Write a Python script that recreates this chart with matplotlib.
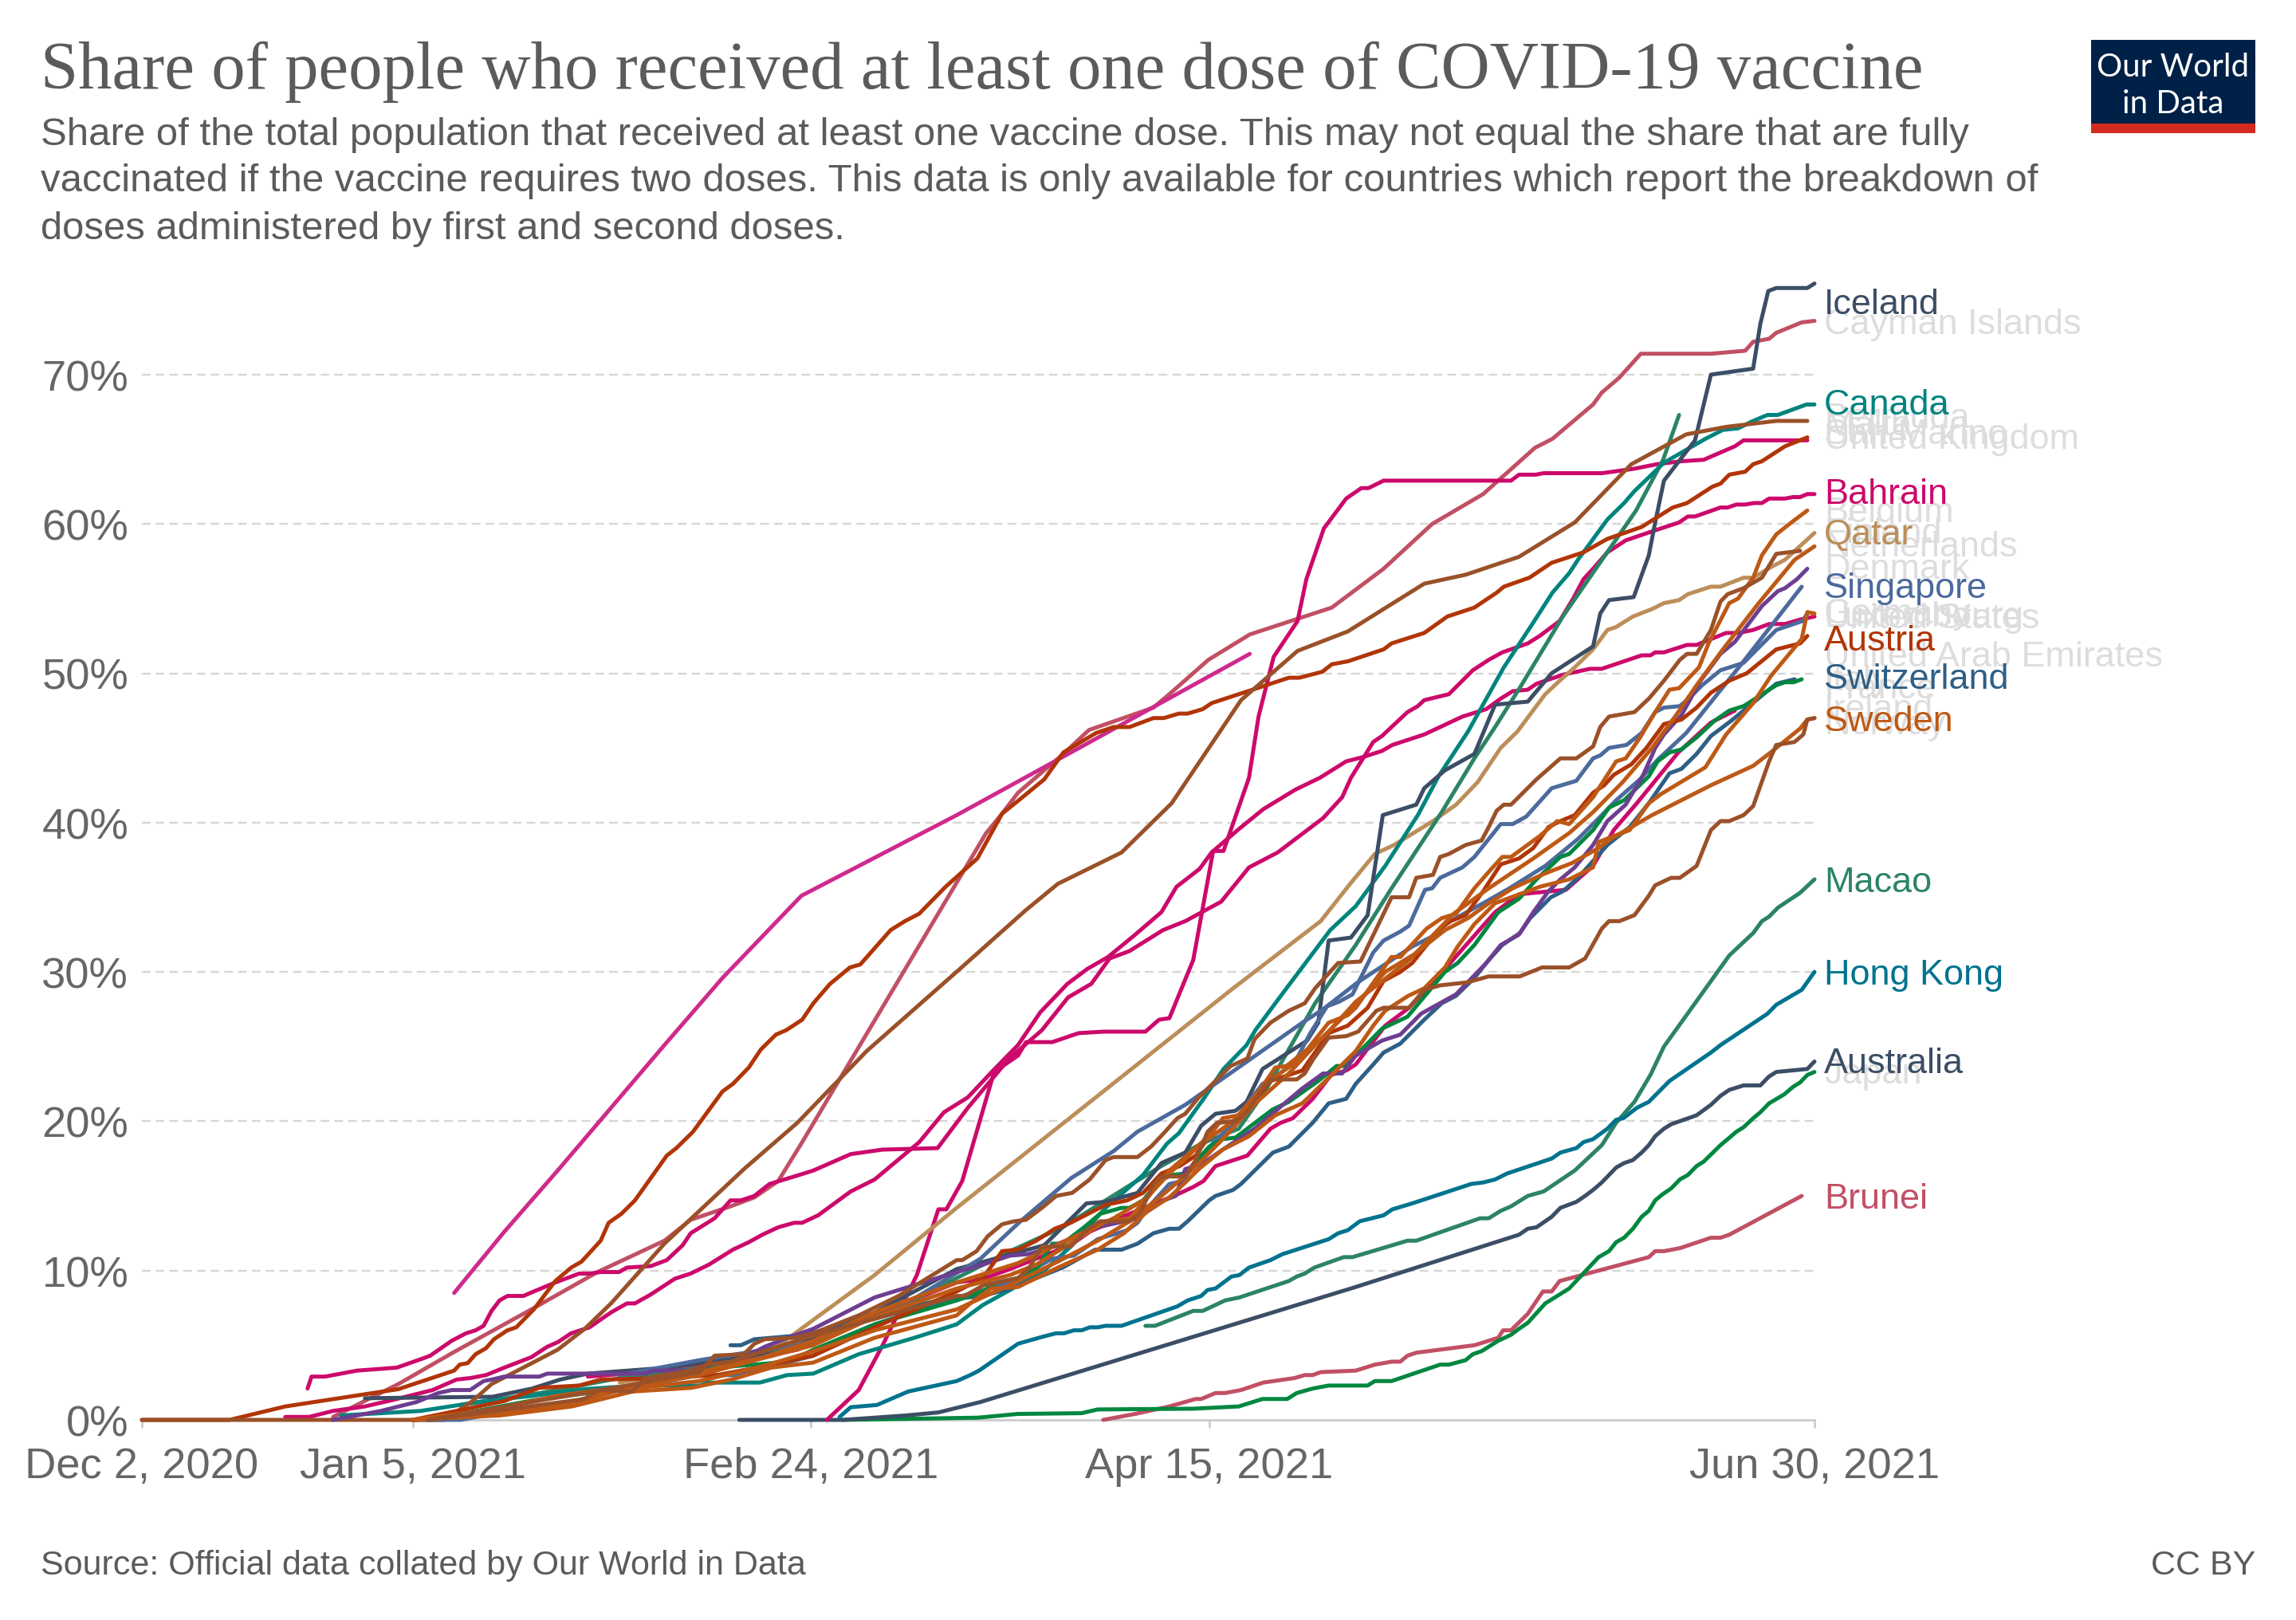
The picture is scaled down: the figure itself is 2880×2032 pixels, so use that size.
import matplotlib
matplotlib.use('Agg')
import matplotlib.pyplot as plt
from matplotlib.patches import Rectangle

# every series is (days since Dec 2 2020, percent)
iceland = [(28,1.45),(44,1.55),(49,2.1),(52.5,2.7),(56,3.1),(66,3.5),(69,3.75),(80,4.5),(84,5.4),(92,7.2),(102.3,10.1),(113.3,11.7),(118.6,14.5),(121,14.6),(125,15.2),(128,17.2),(131,17.9),(133,19.7),(134.8,20.5),(137.3,20.7),(138.7,21.3),(140.7,23.5),(146.3,25.4),(147.7,26.6),(149,32.1),(151.8,32.3),(153.9,33.8),(155.8,40.5),(160,41.2),(161,42.3),(163.6,43.5),(167.3,44.6),(169.9,47.9),(174,48.1),(177,50),(182.2,51.8),(183.1,54),(184.2,54.9),(187.3,55.1),(189.2,57.9),(190,60.1),(191.1,62.9),(195,65.6),(197,70),(202.3,70.4),(203.2,73.4),(204.2,75.6),(205.2,75.8),(209.1,75.8),(210,76.1)]
cayman = [(24,0.2),(32.2,2.4),(39.2,4.55),(48.9,7.4),(57.2,9.9),(65.6,12),(68.9,13.4),(73.9,14.3),(76.9,14.9),(79.9,16),(82.9,18.6),(106,39.3),(108,40.6),(110,42),(115.7,44.6),(118.9,46.2),(127,47.7),(129,48.6),(133.9,50.9),(139.1,52.6),(149.4,54.4),(155.9,57),(162,60),(168.4,62),(174.9,65.1),(177.1,65.7),(182.2,68),(183.3,68.8),(185.5,69.8),(188.2,71.4),(197,71.4),(201.3,71.6),(202.3,72.2),(204.3,72.4),(205.2,72.8),(208.4,73.5),(210,73.6)]
canada = [(25,0.3),(35,0.6),(43.5,1.3),(48.9,1.6),(55.6,2.06),(62.2,2.3),(70,2.3),(71,2.5),(77.6,2.5),(81,3),(84.3,3.1),(90,4.4),(97,5.5),(102.3,6.4),(105.6,7.7),(109,8.7),(111,9.3),(113.3,10),(116.6,11.6),(121,14.2),(125.7,16.4),(128.7,18.5),(130.2,19.2),(133.3,21.5),(135.8,23.5),(138.7,25.1),(139.8,26.1),(143.7,28.9),(149.2,32.8),(152.4,34.4),(156.1,37.1),(160.2,40.5),(162.8,43.1),(166.5,46.1),(171,50.4),(174.7,53.4),(177.1,55.4),(179.2,56.7),(180.3,57.6),(184,60.3),(186.1,61.4),(187.4,62.2),(191.1,64.1),(193.7,64.9),(196.3,65.7),(198.5,66.3),(200.4,66.4),(202.3,66.9),(204.1,67.3),(205.4,67.3),(209,68),(210,68)]
malta = [(40,1),(50,1.8),(60,2.8),(70,3.5),(84,5.2),(95,7.5),(102.3,9.5),(109,11.3),(115.6,12.9),(124.3,15.8),(128,17),(133,18.5),(137.7,19.5),(141,22),(147.3,27.9),(152.4,31.8),(156.9,35.6),(163.2,40.7),(167.3,44.3),(169.9,46.4),(173.2,49.2),(178.4,53.8),(187.6,60.9),(191,64.3),(193,67.3)]
bermuda = [(0,0),(38,0),(41.5,1.26),(43.9,2.4),(52.2,4.7),(55.6,6.1),(58.9,7.8),(65.6,11.8),(69,13.5),(75.6,16.8),(82.3,19.9),(91,24.7),(102.7,30.2),(110.9,34.1),(115,35.9),(123,38),(129.3,41.3),(138,48.2),(145.1,51.5),(151.4,52.8),(161,56),(166.2,56.6),(172.9,57.8),(179.9,60.1),(187,64),(193.9,66),(198.9,66.5),(205.2,66.9),(209.1,66.9)]
san_marino = [(86,0),(90,2),(93,5),(97.3,9.7),(100,14.1),(101,14.1),(103,16),(107,23.3),(110,24.4),(111,25.3),(114.3,25.3),(117.6,25.9),(120.7,26),(126,26),(127.7,26.8),(129,26.9),(132,30.8),(134.5,38.1),(135.8,38.1),(139,43),(140.2,47.1),(142.1,51.1),(145.1,53.5),(146.2,56.3),(148.4,59.7),(151.2,61.7),(153.1,62.4),(154,62.4),(155.9,62.9),(171.9,62.9),(172.9,63.3),(175,63.3),(176,63.4),(183.3,63.4),(187.4,63.7),(190.2,64),(193.3,64.2),(196.1,64.3),(200,65.2),(201.1,65.6),(209.1,65.6)]
uk = [(0,0),(11,0),(18,0.9),(32.2,2.06),(39.2,3.3),(39.9,3.7),(40.9,3.8),(41.9,4.4),(43.2,4.8),(44.2,5.4),(45.9,6),(47,6.2),(49.2,7.4),(51.9,9.3),(53.9,10.2),(55.2,10.6),(57.6,12),(58.6,13.2),(60.2,13.8),(61.9,14.7),(65.9,17.7),(67.1,18.2),(69.2,19.3),(72.9,22),(74.2,22.5),(76.2,23.6),(77.7,24.8),(79.6,25.8),(80.9,26.1),(82.9,26.8),(84.3,27.9),(86.4,29.2),(88.9,30.3),(90.2,30.5),(94,32.8),(95.8,33.4),(97.6,33.9),(100.9,35.7),(104.9,37.6),(108,40.6),(110.1,41.5),(113.3,42.9),(115.7,44.7),(119.8,46),(122,46.4),(124,46.4),(127,47),(128.3,47),(130.2,47.3),(131.3,47.3),(133.2,47.6),(134.3,48),(144,49.7),(145.3,49.7),(148.2,50.1),(149.4,50.6),(151.4,50.8),(155.9,51.6),(156.9,52),(161,52.7),(163.9,53.8),(167.3,54.4),(170.1,55.4),(171,55.8),(174.2,56.4),(177,57.4),(181,58.1),(184,59),(188.3,59.8),(192.2,61.1),(194,61.4),(197.2,62.5),(198.2,62.7),(199.3,63.3),(201.3,63.5),(202.3,64),(203.4,64.2),(206.3,65.2),(209.1,65.8)]
bahrain = [(20.8,2.1),(21.3,2.9),(23,2.9),(27,3.3),(32,3.5),(35.2,4.1),(36.2,4.3),(38.9,5.3),(40.7,5.8),(41.9,6),(42.9,6.3),(43.9,7.3),(44.9,8),(45.9,8.3),(47.9,8.3),(49.2,8.6),(51.9,9.2),(54.9,9.8),(56.2,9.8),(57.6,9.9),(59.9,9.9),(60.9,10.2),(63.9,10.3),(65.9,10.7),(67.9,11.7),(68.9,12.5),(71.9,13.5),(73.9,14.7),(75.2,14.7),(76.9,15),(78.8,15.8),(81.9,16.3),(84.3,16.7),(89,17.8),(93,18.1),(99.9,18.2),(103.7,20.9),(108.9,24.2),(113,26.1),(116.3,28.3),(119.2,29.2),(121.5,30.9),(124,31.4),(128.2,32.8),(131,33.4),(135.5,34.7),(139,37),(142.6,38),(148.3,40.3),(150.7,41.7),(151.8,43),(154.6,45.4),(155.7,45.8),(158.9,47.4),(160.2,47.8),(161,48.2),(164.1,48.6),(167.1,50.2),(169.1,50.9),(170.8,51.4),(174,52),(175.5,52.5),(178,53.5),(179.7,55),(181,56.3),(182.2,57),(184,58.1),(186.3,58.9),(189.6,59.5),(193,60.1),(194.1,60.5),(195,60.5),(198.2,61.1),(199.1,61.1),(200.2,61.3),(201.3,61.3),(202.4,61.4),(203.4,61.4),(204.3,61.7),(206.3,61.7),(207.3,61.8),(208.2,61.8),(209.1,62),(210,62)]
us = [(18,0.2),(21,0.2),(24,0.6),(28,0.9),(32,1.4),(36.5,2),(39.5,2.7),(41.2,2.8),(43.2,3),(45.5,3.5),(48.9,4.2),(50.9,4.9),(52.2,5.2),(53.9,5.8),(56.2,6.2),(58.9,7.2),(60.9,7.8),(61.9,7.8),(63.9,8.4),(66.9,9.45),(68.9,9.8),(71.2,10.4),(74.2,11.4),(76.2,11.9),(77.9,12.4),(79.9,12.9),(81.9,13.2),(82.9,13.2),(84.9,13.7),(89,15.3),(92,16.1),(97.6,18.6),(100.7,20.6),(103.7,21.6),(106.7,23.3),(110,25.1),(112.8,27.3),(116.2,29.2),(118.7,30.2),(121.3,31),(124.5,32.4),(128,34),(129.9,35.7),(132.8,36.9),(134.3,38),(137.8,39.6),(140.8,40.9),(144.8,42.2),(147.9,43),(151.2,44.1),(153.4,44.4),(155.7,44.8),(157,45.2),(161,45.9),(165.8,47.1),(168.8,47.6),(170.6,48.3),(172.1,48.8),(174,48.9),(175.1,49.3),(178.4,49.9),(181.8,50.3),(183.3,50.3),(188.3,51.2),(189.4,51.2),(190,51.4),(191.1,51.4),(194,51.9),(195.2,51.9),(198.9,52.7),(200.4,52.7),(202.3,52.9),(204.3,53.3),(206.3,53.3),(208.2,53.6),(210,53.8)]
uae = [(39.2,8.5),(45.5,12.6),(52.2,16.7),(58.9,20.9),(65.6,25.1),(72.9,29.6),(82.8,35.1),(102.3,40.5),(118.7,45.3),(139.1,51.3)]
qatar = [(60,2.5),(70,3.4),(80,5),(84.3,6.7),(92,9.7),(102.3,14.2),(137,28.9),(148,33.4),(151.7,35.9),(154.8,37.9),(157.2,38.5),(162.1,40.1),(165,41.2),(167.7,42.7),(170.6,45),(172.7,46.1),(176.2,48.6),(178,49.5),(179.9,50.4),(182.2,51.6),(184,52.9),(185.1,53.1),(187.2,53.8),(189.6,54.3),(191.1,54.7),(193,54.9),(194.1,55.3),(197,55.8),(198.2,55.8),(201.1,56.4),(202.3,56.4),(204.5,57.1),(206.3,57.6),(210,59.4)]
hong_kong = [(87.6,0.2),(89,0.85),(92.3,1),(96.2,1.9),(102.3,2.6),(104,3),(105.1,3.3),(110,5.1),(113.3,5.6),(114.8,5.8),(115.8,5.8),(117,6),(118,6),(119,6.2),(120,6.2),(121,6.3),(123,6.3),(130,7.6),(131.3,8),(133,8.3),(133.8,8.7),(134.8,8.8),(136.8,9.6),(137.8,9.7),(139,10.2),(141.7,10.7),(143.2,11.1),(149,12.1),(150.2,12.5),(151.4,12.7),(152.9,13.3),(155.9,13.7),(157,14.1),(159.5,14.5),(166.9,15.8),(168.4,15.9),(169.9,16.1),(171.4,16.5),(177,17.5),(178.1,17.9),(180.1,18.2),(181,18.6),(182.2,18.8),(184,19.5),(185.1,20.1),(186,20.2),(187.7,20.9),(189.2,21.3),(191.8,22.7),(197,24.6),(198.2,25.1),(204.1,27.2),(205.2,27.8),(208.4,28.8),(210,30)]
macao = [(126,6.3),(127.2,6.3),(132,7.3),(133.2,7.3),(134.8,7.7),(136,8),(137.8,8.2),(144,9.3),(145,9.6),(146,9.8),(147.2,10.2),(150.9,10.9),(152,10.9),(158.9,12),(160,12),(168,13.5),(169.1,13.5),(170.6,14),(171.9,14.3),(174,15),(176,15.3),(179.9,16.7),(183.3,18.4),(185.1,19.9),(187.4,21.3),(189.4,23.1),(191.1,25),(199.3,31.1),(202.3,32.6),(203.4,33.4),(204.3,33.7),(205.4,34.3),(208.2,35.3),(210,36.2)]
australia = [(75,0),(88,0),(96,0.3),(100,0.5),(105.3,1.2),(152.4,8.9),(172.9,12.4),(174,12.8),(175.1,12.9),(177,13.6),(178.1,14.2),(180.1,14.6),(181.2,15),(182.2,15.4),(183.3,15.9),(185.1,16.9),(186.1,17.2),(187.2,17.4),(188.3,17.9),(189.2,18.4),(190,19),(191.1,19.5),(192,19.8),(195.2,20.4),(197,21.1),(198.2,21.7),(199.3,22.1),(201.1,22.4),(203.2,22.4),(204.3,23),(205.2,23.3),(209.1,23.5),(210,24)]
japan = [(88,0),(105,0.15),(110,0.4),(118,0.45),(120,0.7),(132,0.75),(137.7,0.9),(140.7,1.4),(143.8,1.4),(145,1.8),(147,2.1),(149,2.3),(153.9,2.3),(154.8,2.6),(156.9,2.6),(163,3.7),(164.1,3.7),(166.2,4),(167.1,4.4),(168.2,4.6),(170.3,5.3),(171.9,5.7),(172.9,6.1),(174,6.5),(176.2,7.8),(179.2,8.8),(182.9,10.9),(184.2,11.3),(185.1,11.9),(186.1,12.2),(187.2,12.8),(188.3,13.6),(189.2,14),(190,14.7),(190.9,15.1),(192,15.5),(193.1,16.1),(194.1,16.4),(195.2,17),(196.1,17.3),(198.2,18.4),(199.1,18.8),(200.2,19.3),(201.1,19.6),(202.3,20.2),(203.2,20.6),(204.3,21.2),(206.2,21.8),(207.3,22.3),(208.2,22.6),(209.1,23.1),(210,23.3)]
brunei = [(120.7,0),(124.7,0.4),(129,0.9),(132.3,1.4),(133,1.4),(134.8,1.8),(136,1.8),(138,2),(140.8,2.5),(144.7,2.8),(146,3),(147,3),(148,3.2),(152.4,3.3),(154.8,3.7),(156.9,3.9),(158,3.9),(158.9,4.3),(160,4.5),(167.3,5),(170.3,5.5),(170.9,6),(171.9,6),(174,7.1),(175.9,8.6),(177,8.6),(178,9.3),(189.2,10.9),(190,11.3),(191.1,11.3),(193.1,11.5),(197,12.2),(198.2,12.2),(199.3,12.4),(208.4,15)]
singapore = [(60,3),(70,4),(84,5.2),(95,7.5),(105.3,10.8),(110.3,13.3),(116.7,16.2),(122,18),(125,19.3),(131,21.1),(145.7,26.6),(148.3,27.5),(152.4,29.2),(153.5,29.6),(157.2,30.9),(159.5,31.7),(162.1,32.4),(163.6,33.2),(168.4,34.6),(171.7,35.6),(176.2,37.1),(180.3,38.9),(183.3,40.5),(185.1,41.5),(188.1,42.9),(190.3,44.2),(193.9,46),(200.8,50.6),(208.4,55.8)]
germany = [(34,0),(40,0),(46,0.6),(55,1.3),(60,2),(70,3),(75,3),(84.3,4.3),(92,6.4),(102.3,8.2),(109,9.2),(114.3,10.8),(117,11),(120,12.1),(123.7,12.7),(125,13.2),(126.3,14.2),(129,15.8),(130.7,16),(132.7,17.5),(135.7,19.2),(137.7,20),(139,21.3),(140.7,22.5),(142.3,23),(144.7,23.9),(146.7,25.9),(148.8,27.7),(150.3,28),(152,28.5),(154.6,31.3),(155.9,32.1),(158,32.7),(159.1,33.1),(161.1,35.5),(162,35.6),(163,36.3),(165.8,37),(167.3,37.7),(170.6,39.9),(172.1,39.9),(173.8,40.4),(177,42.3),(180.1,42.8),(182.2,44.3),(183.1,44.5),(184.2,45),(186.4,45.2),(188.3,46),(190,47.4),(191.1,47.7),(193.1,47.8),(194.4,48.4),(195.9,49.2),(198.2,50.2),(201.1,50.7),(205.2,52.9),(208.5,53.5),(209.1,54)]
switzerland = [(73.9,5),(75.2,5),(76.9,5.4),(81.3,5.6),(84,5.8),(92,7),(100,8),(105.6,8.3),(109,8.8),(115.6,10.2),(119.7,11.4),(123,11.4),(125,11.8),(127,12.5),(129,12.8),(130.2,12.8),(131.3,13.3),(134,14.7),(134.8,15),(137,15.4),(138,15.8),(142,17.9),(144,18.3),(147,19.9),(149,21.2),(151.2,21.5),(152.4,22.5),(154.6,23.8),(155.9,24.6),(158,25.2),(161,26.8),(163.2,27.9),(165,28.4),(167.3,29.6),(169.1,30.8),(170.8,31.8),(173,32.6),(174.3,33.6),(176.9,35),(178.4,35.4),(180.3,36.3),(184,38.5),(186.8,39.7),(189.2,41.3),(191.8,43.3),(193.3,43.6),(195.2,44.6),(197,45.8),(199.5,46.8),(205.2,49.3),(207.5,49.6)]
denmark = [(24,0),(27,0.3),(30,0.6),(34.5,1.2),(37.2,1.8),(38.9,2),(41.2,2),(42.9,2.6),(43.9,2.7),(45.5,2.9),(49.9,2.9),(50.9,3.1),(63.2,3.1),(64.2,3.3),(68.9,3.3),(71.9,3.8),(74.2,3.8),(78.2,4.9),(80.6,5.4),(84.3,6.1),(92,8.2),(102.3,9.9),(105.6,10.4),(109,11),(111.3,11.1),(113.3,11.4),(120,12.9),(125,13.5),(128.3,14.7),(129.8,15),(131,16.8),(133,17.1),(135.7,18.1),(139.7,19.5),(145.7,22.2),(148.3,23.2),(150.7,23.2),(152.4,24.4),(155.7,25.4),(158,25.8),(160.6,27.2),(165,28.5),(168.8,30.6),(170.6,31.8),(172.9,32.5),(174.7,34),(176.6,35.4),(178.1,36.2),(179.9,37),(182.2,38.5),(184,40.1),(186.3,41.2),(188.5,43.2),(189.6,44.5),(190,45),(191.1,45.9),(193.3,47.2),(195.7,49.5),(198.2,51.3),(200,52.1),(203.4,54.5),(205.4,55.5),(206.3,55.7),(207.8,56.3),(209.1,57)]
italy = [(36,0),(40,0.4),(49,1.3),(58.9,2),(65.6,2.8),(72.2,3.5),(79,3.8),(81.6,4),(84.3,4.7),(92,6.4),(102.3,8),(105.6,8.6),(107.3,9.2),(110,9.5),(112.3,10.1),(114.3,11.8),(115.6,11.8),(118.3,12.9),(120.3,13.8),(123,14.2),(124,14.2),(125.7,14.7),(127.7,16),(129.3,16.4),(131,16.5),(134,18.3),(135.7,18.8),(137.3,18.9),(142,20.8),(144,21.3),(147.7,22.7),(150,23.7),(151,23.7),(152.4,24.4),(155.7,26.2),(158.9,27),(163.6,30),(165.2,30.6),(167.3,31.8),(170.3,34),(172.9,34.9),(175.1,36.2),(178.1,37.7),(179.2,37.9),(182.2,39.5),(184.2,41),(186.1,41.5),(189.2,43.1),(190.3,44.1),(191.8,44.7),(193.3,44.9),(195.2,45.7),(197.4,46.8),(199.3,47.5),(201.1,47.8),(205.2,49.2),(206.3,49.4),(207.4,49.4),(208.4,49.6)]
france = [(56,2.9),(65.6,3.3),(75.6,4),(82.3,4.7),(92,7),(102.3,9.2),(105.6,9.45),(109,10.1),(112.3,10.8),(116.6,11.7),(119,12.6),(124,13.8),(126.3,14.3),(130,15.1),(132,15.6),(133.3,16),(134.8,17),(138.8,17.7),(141.7,19.5),(143,19.9),(144.5,20.2),(147,21.5),(149.3,23.1),(151.2,23.4),(152.4,23.8),(156.1,26.4),(159.1,27.6),(163.6,30.2),(169.9,34),(172.9,35.2),(178.8,35.5),(182.2,37.1),(184.8,39.5),(187.7,41.3),(192.9,44.7),(197,46.7),(200,47.5)]
belgium = [(34,0),(45.5,0.5),(54,1.2),(60,2.1),(70,3),(77,4),(84.3,5),(92,6.9),(102.3,8.8),(109,9.7),(112.3,10.4),(121,13.3),(124,13.5),(126.3,14.9),(129,16.7),(134,19),(135.7,20.2),(137.7,20.4),(140,21.8),(142.3,23.6),(143.7,23.7),(146.3,24.8),(149,26.6),(151.4,27.1),(152.4,27.6),(156.1,30.4),(156.9,31),(158,31),(161.3,32.9),(163.2,33.6),(165,33.9),(167.3,35.6),(169.1,36.7),(170.8,37.7),(171.9,37.7),(175.5,39.1),(177.7,40.1),(179.2,39.9),(182.2,41.7),(185.1,44.1),(186.3,44.3),(188.1,45.7),(190,47.4),(191.8,48.9),(193,49),(195.5,50.4),(196.7,52),(199.3,54.7),(200.4,55),(202.3,56.4),(203.4,57.9),(205.2,59.3),(207.1,60.1),(209.1,60.9)]
netherlands = [(34,0),(44,0.7),(52,1.6),(60,2.2),(70,3.2),(78,4.2),(84.3,5.3),(92,7.2),(102.3,9.2),(110,10.5),(116,12),(122,13.5),(126,14.8),(129,16.5),(133,18.5),(137,20),(141,22.5),(145,24),(149,26),(152.4,28),(159.1,30.8),(164.7,33.9),(169.1,35.6),(174.7,37.6),(179.2,39.3),(182.2,40.7),(185.9,42.7),(189.6,45),(192.9,47.4),(195.2,49.2),(198.5,51.6),(203,54.7),(207.5,57.6),(210,58.5)]
austria = [(34,0),(45.5,1.26),(49.9,2.15),(54.9,2.3),(57.6,2.7),(65.6,2.8),(72.2,3),(77.2,3.5),(84.3,4.3),(92,6.2),(102.3,8.6),(105.6,9.5),(108,11.3),(110,11.4),(112.3,12),(114.6,12.8),(116.6,13.2),(121,14.4),(123.7,14.7),(125.7,15.2),(128,16.5),(130.3,17),(132.3,17.7),(134,19),(135,19.9),(137.3,20),(139,20.9),(141.7,22.7),(145.7,23.4),(149,25.9),(151.4,26.4),(153.9,27.6),(155.9,29.4),(158,30),(159.5,30.6),(162.8,32.8),(164.3,33.4),(166.2,33.8),(168.4,35.4),(170.6,37.2),(172.9,37.6),(174.7,38.3),(176.6,39.7),(178.1,40.1),(179.9,40.5),(182.2,42),(183.6,42.5),(184.8,43.2),(187,43.9),(188.9,45),(191.1,46.6),(193.3,46.9),(195.2,47.7),(197,48.7),(199.3,49.5),(201.5,50),(205.2,51.6),(208.2,52),(209.1,52.5)]
finland = [(36,0),(50,1.3),(60,2.2),(70,3.2),(71.9,4.3),(75.6,4.4),(76.9,5.1),(78.2,5.4),(81.9,5.5),(84.3,5.8),(90,7),(95,8.3),(102.3,10.7),(103,10.7),(104.8,11.3),(106.2,12.3),(108,13.1),(109.5,13.3),(111,13.4),(113,14.2),(114.8,15),(116.8,15.2),(119,16.1),(121,17.4),(122,17.6),(125,17.6),(126.7,18.3),(128.3,19.2),(130,20.2),(131,20.5),(132.7,21.6),(136.7,23.7),(138.8,24.2),(139.7,25.5),(141.7,26.6),(144,27.4),(146,27.9),(147.3,28.9),(150.2,30.6),(153,30.7),(156.9,35),(159.1,35),(160,36.3),(162.1,36.5),(163,37.7),(164.1,37.9),(166.2,38.5),(168.2,38.8),(169.1,39.7),(170.1,40.8),(171,41.2),(171.9,41.2),(175.1,42.9),(178.1,44.3),(180.1,44.3),(182.2,45.1),(183.1,46.4),(184.2,47.1),(187.4,47.4),(189.2,48.3),(191.1,49.5),(193.1,50.9),(194,51.3),(195.2,51.3),(197,52.9),(198.2,54.8),(199.1,55.3),(201.1,55.7),(203.4,56.4),(205.2,58),(208.2,58.2)]
ireland = [(36,0),(50,1),(55.6,1.4),(57.2,2),(61.6,1.9),(63.2,2.8),(68.9,3.3),(71,3.7),(73.9,3.9),(84,5.6),(95,7.2),(102.3,8.3),(103.3,8.3),(105.6,9),(110,9.5),(111.3,10.1),(113,11.6),(116.6,11.6),(118.6,12.7),(120.3,13.3),(124,13.3),(125.3,13.8),(127,15.8),(128,16.3),(131,16.3),(132.3,17.4),(133.8,19.3),(135,19.9),(137.3,20),(138.7,20.6),(141,22.4),(141.8,22.8),(145,22.8),(146,23.2),(147,24.1),(149,25.6),(151.2,25.7),(152.7,26),(155,27.4),(155.9,27.6),(159.1,27.6),(161,28.8),(163,29.1),(166.4,29.3),(169.1,29.7),(173,29.7),(175.8,30.3),(179.2,30.3),(181.2,30.9),(183.3,32.9),(184.2,33.4),(185.5,33.4),(187.4,33.8),(189.2,35.1),(190,35.8),(192,36.3),(193.1,36.3),(195.2,37.1),(197,39.5),(198.2,40.1),(199.3,40.1),(201.1,40.5),(202.3,41.1),(204.3,44.1),(205.2,45.2),(207.5,45.4),(208.6,45.9),(209.1,46.9),(210,47)]
sweden = [(34,0),(46,0.5),(54,1.1),(60,2),(70,2.6),(78,3.6),(84.3,4.6),(92,6),(102.3,7.4),(110,9.3),(115,10.6),(120,12),(124,13.3),(128,15),(132,16.8),(135.7,18.8),(140,21.3),(144,23.2),(148,25.5),(152.4,27.8),(156.1,30),(159.8,31.2),(163.6,32.8),(166.5,33.6),(169.1,34.6),(172.1,35.6),(176.2,36.6),(179.6,37.3),(182.9,38.3),(184.4,38.9),(189.6,40.5),(197,42.5),(202.3,43.8),(204.5,44.7),(208.2,46.3),(209.1,46.9),(210,47)]
luxembourg = [(34,0),(45,0.3),(54,0.9),(61.6,1.9),(69,2.15),(74,2.7),(79,3.5),(84.3,3.84),(92,5.5),(102.3,7),(104,7.8),(106.6,8.8),(110,8.9),(115,10.2),(120,11.4),(123.3,12.5),(126.3,14),(129,14.9),(131,15.9),(132.7,16.8),(135.7,18.1),(139,19),(142.3,20.4),(145.7,21.2),(149,22.9),(152.4,24.7),(154.6,26.4),(156.1,27.4),(159,28.4),(161,28.9),(163.6,30.3),(165.2,31.7),(167.3,33.2),(169.9,34.6),(175.5,35.7),(179.2,36.2),(182.2,37),(182.9,38.7),(186.8,39.5),(189.2,41.3),(190.7,41.9),(196.3,43.7),(198.9,45.9),(202.3,48),(204.5,49.8),(208.4,52.3),(209.1,54.1),(210,54)]

# draw order follows the original, bottom to top
country_names = ['Cayman Islands', 'Brunei', 'Japan', 'Australia', 'Macao', 'Hong Kong', 'United States', 'San Marino', 'Bahrain', 'France', 'United Arab Emirates', 'Qatar', 'Malta', 'Canada', 'Iceland', 'United Kingdom', 'Bermuda', 'Singapore', 'Switzerland', 'Germany', 'Italy', 'Denmark', 'Austria', 'Luxembourg', 'Sweden', 'Netherlands', 'Belgium', 'Ireland', 'Finland']
country_points = [cayman, brunei, japan, australia, macao, hong_kong, us, san_marino, bahrain, france, uae, qatar, malta, canada, iceland, uk, bermuda, singapore, switzerland, germany, italy, denmark, austria, luxembourg, sweden, netherlands, belgium, ireland, finland]
country_colors = ['#C15065', '#C15065', '#00873F', '#3C4E66', '#2C8465', '#00738F', '#CC0A6B', '#CC0A6B', '#CC0A6B', '#CC0A6B', '#CF2A8D', '#BC8E5A', '#2C8465', '#00847E', '#3C4E66', '#B13507', '#9A5129', '#4C6A9C', '#2E5F86', '#4C6A9C', '#00873F', '#6D3E91', '#B13507', '#BE5915', '#BE5915', '#BE5915', '#BE5915', '#9A5129', '#9A5129']

# labels at the right: first the hidden grey ones, then the coloured ones on top
faded_labels = ['Cayman Islands', 'Bermuda', 'Malta', 'San Marino', 'United Kingdom', 'Belgium', 'Finland', 'Netherlands', 'Denmark', 'Germany', 'Luxembourg', 'United States', 'United Arab Emirates', 'Italy', 'France', 'Ireland', 'Norway', 'Japan']
faded_y = [73.4, 67.1, 66.6, 66.0, 65.7, 60.8, 59.4, 58.5, 57.0, 54.0, 53.8, 53.7, 51.1, 49.5, 49.0, 47.6, 46.6, 23.2]
shown_labels = ['Iceland', 'Canada', 'Bahrain', 'Qatar', 'Singapore', 'Austria', 'Switzerland', 'Sweden', 'Macao', 'Hong Kong', 'Australia', 'Brunei']
shown_y = [74.7, 68.0, 62.0, 59.3, 55.7, 52.2, 49.6, 46.8, 36.0, 29.8, 23.9, 14.8]
shown_colors = ['#3C4E66', '#00847E', '#CC0A6B', '#BC8E5A', '#4C6A9C', '#B13507', '#2E5F86', '#BE5915', '#2C8465', '#00738F', '#3C4E66', '#C15065']

tick_days = [0, 34, 84, 134, 210]
tick_labels = ['Dec 2, 2020', 'Jan 5, 2021', 'Feb 24, 2021', 'Apr 15, 2021', 'Jun 30, 2021']
y_ticks = [0, 10, 20, 30, 40, 50, 60, 70]

W, H = 2880, 2033
sans = 'Liberation Sans'
fig = plt.figure(figsize=(W / 200, H / 200), dpi=200)
ax = fig.add_axes([178 / W, (H - 1782) / H, 2098 / W, 77 * 18.73 / H])
ax.set_xlim(0, 210)
ax.set_ylim(0, 77)

for s in ['top', 'right', 'left']:
    ax.spines[s].set_visible(False)
ax.spines['bottom'].set_color('#cccccc')
ax.spines['bottom'].set_linewidth(1.0)

for v in y_ticks[1:]:
    ax.axhline(v, color='#d6d6d6', lw=0.85, linestyle=(0, (4.6, 2.7)), zorder=1)

for name, pts, col in zip(country_names, country_points, country_colors):
    pts = sorted(pts)
    ax.plot([p[0] for p in pts], [p[1] for p in pts], color=col, lw=1.8,
            solid_joinstyle='round', solid_capstyle='round', clip_on=False, zorder=3, label=name)

ax.set_xticks(tick_days)
ax.set_xticklabels(tick_labels, fontsize=19.6, color='#666666', family=sans)
ax.set_yticks(y_ticks)
ax.set_yticklabels(['%d%%' % v for v in y_ticks], fontsize=19.6, color='#666666', family=sans)
ax.tick_params(axis='x', length=3.5, width=1.0, color='#cccccc', pad=8.5)
ax.tick_params(axis='y', length=0, pad=6)

for name, y in zip(faded_labels, faded_y):
    ax.text(211.2, y, name, fontsize=16.2, color='#dddddd', family=sans, va='center', clip_on=False, zorder=4)
for name, y, col in zip(shown_labels, shown_y, shown_colors):
    ax.text(211.2, y, name, fontsize=16.2, color=col, family=sans, va='center', clip_on=False, zorder=5)

# header
fig.text(51 / W, 1 - 90 / H, 'Share of people who received at least one dose of COVID-19 vaccine',
         fontsize=30.5, color='#5b5b5b', family='Liberation Serif', va='center')
subtitle = ['Share of the total population that received at least one vaccine dose. This may not equal the share that are fully',
            'vaccinated if the vaccine requires two doses. This data is only available for countries which report the breakdown of',
            'doses administered by first and second doses.']
for line, y in zip(subtitle, [169, 228, 287]):
    fig.text(51 / W, 1 - y / H, line, fontsize=17.7, color='#5b5b5b', family=sans, va='center')

# footer
fig.text(51 / W, 1 - 1964 / H, 'Source: Official data collated by Our World in Data', fontsize=15.5, color='#5b5b5b', family=sans, va='center')
fig.text(2829 / W, 1 - 1964 / H, 'CC BY', fontsize=15.5, color='#5b5b5b', family=sans, va='center', ha='right')

# logo
fig.add_artist(Rectangle((2623 / W, 1 - 168 / H), 206 / W, 117 / H, transform=fig.transFigure, color='#002147', lw=0))
fig.add_artist(Rectangle((2623 / W, 1 - 168 / H), 206 / W, 12 / H, transform=fig.transFigure, color='#D42B21', lw=0))
fig.text(2726 / W, 1 - 85 / H, 'Our World', fontsize=14.5, color='white', family='Lato', ha='center', va='center')
fig.text(2726 / W, 1 - 130 / H, 'in Data', fontsize=14.5, color='white', family='Lato', ha='center', va='center')

fig.savefig('out.png', dpi=200, facecolor='white')
